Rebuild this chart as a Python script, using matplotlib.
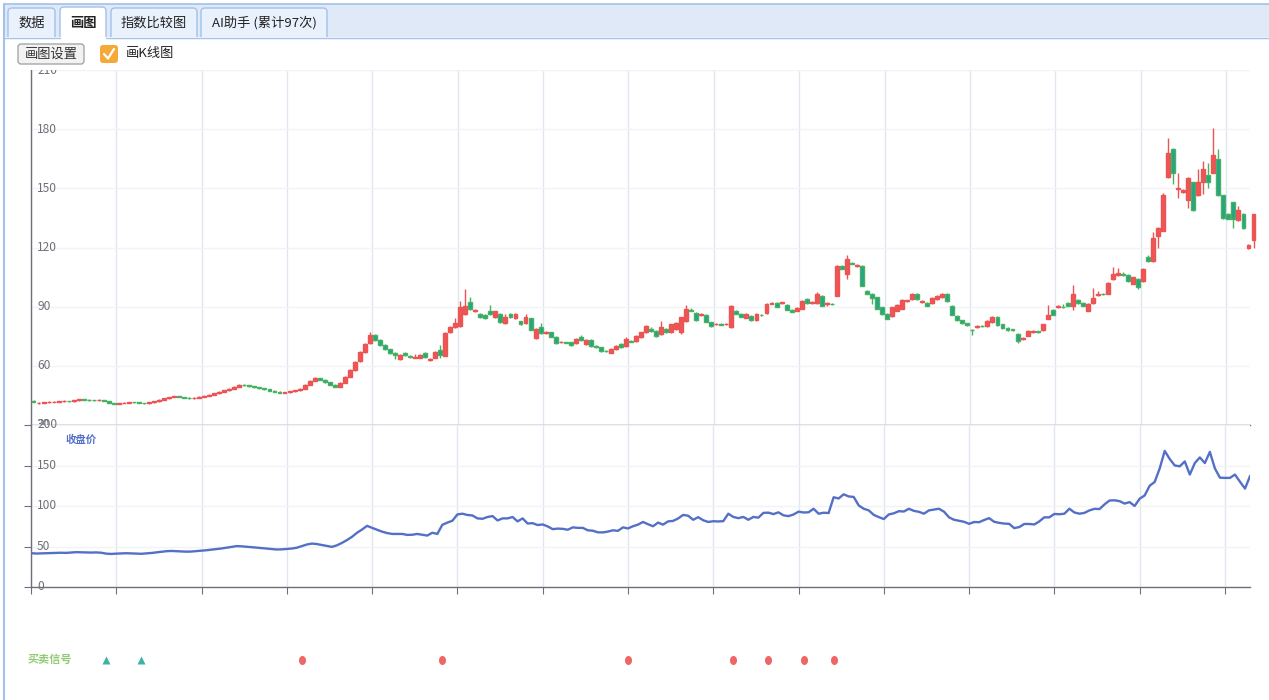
import numpy as np
import matplotlib.pyplot as plt
from matplotlib.patches import FancyBboxPatch, Rectangle
from matplotlib.lines import Line2D
from matplotlib.path import Path

plt.rcParams['font.family'] = ['Noto Sans CJK SC', 'DejaVu Sans']

W, H = 1269, 700

# K线数据 (开, 高, 低, 收)
opens = [
    42.3, 41.0, 41.2, 41.5, 41.7, 41.9, 42.0, 42.2, 42.1, 42.6,
    43.0, 42.8, 42.6, 42.5, 42.7, 42.3, 41.2, 40.8, 41.2, 41.4,
    41.7, 41.5, 41.2, 41.0, 41.5, 42.0, 42.8, 43.5, 44.2, 44.5,
    44.2, 43.9, 43.6, 43.8, 44.3, 44.8, 45.4, 46.1, 46.8, 47.6,
    48.5, 49.5, 50.5, 50.2, 49.7, 49.2, 48.6, 48.0, 47.4, 46.8,
    46.3, 46.5, 47.0, 47.5, 48.5, 50.5, 52.5, 53.6, 53.0, 51.8,
    50.5, 49.5, 51.5, 54.5, 58.0, 62.5, 67.0, 71.5, 75.5, 73.0,
    70.7, 68.3, 66.6, 63.5, 66.5, 65.0, 64.0, 64.2, 66.5, 63.0,
    64.0, 68.0, 65.0, 77.0, 79.5, 80.3, 86.4, 92.2, 88.0, 86.4,
    86.0, 87.6, 84.7, 86.4, 81.8, 86.4, 84.5, 82.6, 81.6, 84.0,
    74.2, 79.6, 76.5, 77.0, 74.8, 71.9, 72.0, 71.9, 71.4, 74.4,
    71.0, 73.0, 70.0, 69.3, 67.7, 66.7, 68.4, 71.0, 70.2, 72.8,
    72.7, 74.4, 77.0, 78.5, 77.6, 76.0, 78.8, 77.0, 78.8, 77.0,
    82.6, 88.5, 87.0, 85.8, 86.0, 82.0, 81.0, 81.2, 81.0, 79.5,
    88.0, 86.5, 84.5, 85.5, 83.0, 86.0, 86.6, 91.5, 92.0, 92.0,
    91.0, 88.5, 88.0, 89.0, 94.0, 92.0, 92.0, 95.6, 91.3, 91.5,
    95.6, 110.8, 106.8, 112.2, 110.5, 110.8, 98.0, 96.6, 94.7, 89.6,
    86.4, 85.4, 88.0, 89.0, 93.0, 94.0, 96.6, 92.5, 92.0, 92.0,
    94.0, 95.0, 96.6, 90.5, 85.5, 83.0, 81.5, 78.3, 79.5, 80.2,
    80.0, 82.0, 85.0, 81.0, 79.2, 78.5, 76.0, 73.5, 75.3, 77.0,
    77.5, 78.0, 84.0, 88.5, 89.8, 90.0, 92.0, 90.5, 93.5, 92.0,
    88.0, 92.0, 96.0, 96.5, 96.6, 104.0, 106.0, 106.5, 106.0, 101.7,
    104.0, 103.0, 115.0, 113.0, 126.0, 128.6, 155.6, 170.0, 149.5, 148.0,
    144.0, 153.0, 146.4, 153.0, 156.6, 158.0, 164.7, 146.4, 137.0, 142.9,
    133.7, 137.0, 119.5, 123.6,
]
highs = [
    42.6, 41.6, 41.7, 42.0, 42.1, 42.3, 42.5, 42.4, 42.8, 43.3,
    43.2, 43.0, 42.9, 43.0, 42.9, 42.4, 41.4, 41.4, 41.7, 41.9,
    41.9, 41.7, 41.4, 41.7, 42.2, 43.0, 43.7, 44.4, 44.8, 44.7,
    44.4, 44.1, 44.0, 44.5, 45.0, 45.6, 46.3, 47.0, 47.8, 48.7,
    49.7, 50.8, 50.7, 50.4, 49.9, 49.4, 48.8, 48.2, 47.6, 47.0,
    46.8, 47.2, 47.8, 48.8, 50.8, 52.9, 54.2, 53.9, 53.2, 52.0,
    50.8, 51.8, 54.8, 58.4, 62.5, 67.5, 71.6, 77.0, 76.0, 73.4,
    71.0, 68.6, 66.9, 66.0, 67.2, 65.4, 65.8, 65.8, 66.8, 64.0,
    67.4, 70.5, 77.2, 80.0, 84.5, 93.0, 99.0, 95.0, 88.8, 86.8,
    86.5, 91.0, 88.0, 86.8, 86.5, 86.8, 86.8, 82.9, 86.5, 84.4,
    79.2, 81.5, 77.6, 77.4, 75.2, 72.5, 72.3, 72.2, 74.0, 75.5,
    73.4, 73.4, 70.4, 69.7, 68.1, 68.8, 70.4, 71.4, 74.4, 73.2,
    75.4, 77.4, 80.7, 79.5, 78.0, 82.5, 79.2, 81.4, 82.0, 85.0,
    91.0, 89.5, 87.4, 86.8, 86.4, 82.4, 81.6, 81.6, 81.7, 91.0,
    88.4, 86.9, 86.9, 85.9, 86.9, 86.4, 91.9, 92.2, 92.4, 92.6,
    91.4, 88.9, 89.9, 93.4, 94.4, 92.8, 97.2, 96.0, 92.5, 92.0,
    111.2, 111.2, 116.0, 112.8, 111.6, 111.2, 98.4, 97.0, 95.1, 90.0,
    86.8, 90.0, 91.4, 94.0, 93.6, 97.0, 97.0, 93.2, 92.4, 95.0,
    96.0, 97.0, 97.0, 90.9, 85.9, 83.4, 81.9, 78.6, 80.6, 80.6,
    83.1, 85.4, 85.4, 81.4, 79.6, 78.9, 76.4, 74.4, 78.2, 78.2,
    77.9, 81.4, 91.0, 88.9, 90.6, 91.5, 92.4, 101.0, 93.9, 92.4,
    91.9, 99.5, 98.0, 96.9, 102.4, 110.0, 109.5, 107.5, 106.4, 105.2,
    104.4, 109.4, 116.0, 128.0, 130.5, 147.5, 175.4, 170.4, 158.0, 149.5,
    155.5, 153.4, 160.0, 164.0, 163.0, 180.5, 170.0, 146.8, 137.4, 143.3,
    141.0, 137.4, 121.9, 137.2,
]
lows = [
    41.5, 40.8, 41.0, 41.3, 41.5, 41.7, 41.8, 41.9, 41.9, 42.4,
    42.6, 42.4, 42.3, 42.3, 42.1, 41.0, 40.5, 40.6, 41.0, 41.2,
    41.3, 41.0, 40.8, 40.8, 41.3, 41.8, 42.6, 43.3, 44.0, 44.0,
    43.7, 43.4, 43.4, 43.6, 44.1, 44.6, 45.2, 45.9, 46.6, 47.4,
    48.3, 49.3, 50.0, 49.5, 49.0, 48.4, 47.8, 47.2, 46.6, 46.1,
    46.1, 46.3, 46.8, 47.3, 48.3, 50.3, 52.3, 52.7, 51.5, 50.2,
    49.2, 49.3, 51.2, 54.2, 57.6, 62.0, 66.5, 71.0, 72.6, 70.3,
    68.0, 66.2, 63.5, 63.0, 65.2, 64.0, 63.8, 64.0, 64.2, 62.3,
    63.8, 63.8, 64.8, 76.5, 79.2, 79.8, 86.0, 88.4, 87.2, 84.2,
    83.8, 86.0, 84.2, 81.8, 81.4, 84.3, 84.0, 80.6, 81.2, 78.0,
    73.8, 76.1, 76.2, 74.4, 71.0, 71.5, 71.4, 70.3, 71.0, 72.6,
    70.6, 69.6, 69.1, 67.1, 67.0, 66.3, 68.0, 68.9, 69.8, 71.9,
    72.3, 74.0, 76.6, 77.1, 74.6, 75.6, 76.6, 76.6, 78.4, 76.0,
    82.2, 87.6, 82.6, 85.4, 82.0, 79.9, 80.6, 80.5, 80.6, 79.1,
    86.1, 84.6, 84.1, 82.6, 82.6, 85.2, 86.2, 91.1, 89.6, 91.6,
    88.1, 87.1, 87.6, 88.6, 91.6, 91.4, 91.6, 90.1, 90.5, 90.8,
    95.2, 108.9, 104.0, 111.4, 110.1, 100.3, 96.2, 91.5, 88.6, 85.9,
    83.5, 85.0, 87.6, 88.6, 92.6, 93.6, 93.6, 92.1, 90.1, 91.6,
    93.6, 94.6, 92.6, 85.6, 82.6, 81.3, 80.1, 75.5, 79.1, 79.6,
    79.6, 81.6, 80.1, 78.8, 77.9, 77.6, 71.5, 73.1, 74.9, 76.6,
    76.8, 77.6, 83.6, 85.6, 89.4, 89.4, 90.1, 88.5, 91.6, 90.1,
    87.6, 91.6, 95.6, 95.8, 96.2, 103.6, 105.6, 105.6, 102.6, 101.3,
    99.0, 102.6, 112.6, 112.6, 120.0, 128.2, 155.2, 152.0, 145.0, 147.6,
    140.0, 138.4, 146.0, 147.0, 150.0, 157.6, 146.0, 134.6, 134.3, 130.0,
    133.3, 129.6, 119.1, 120.0,
]
closes = [
    41.8, 41.3, 41.5, 41.7, 41.9, 42.0, 42.3, 42.1, 42.6, 43.0,
    42.8, 42.6, 42.5, 42.7, 42.3, 41.2, 40.8, 41.2, 41.4, 41.7,
    41.5, 41.2, 41.0, 41.5, 42.0, 42.8, 43.5, 44.2, 44.5, 44.2,
    43.9, 43.6, 43.8, 44.3, 44.8, 45.4, 46.1, 46.8, 47.6, 48.5,
    49.5, 50.5, 50.2, 49.7, 49.2, 48.6, 48.0, 47.4, 46.8, 46.3,
    46.5, 47.0, 47.5, 48.5, 50.5, 52.5, 53.6, 53.0, 51.8, 50.5,
    49.5, 51.5, 54.5, 58.0, 62.0, 67.0, 71.0, 75.5, 73.0, 70.7,
    68.3, 66.6, 65.5, 65.5, 65.5, 64.3, 64.5, 65.5, 64.5, 63.5,
    67.0, 65.5, 76.8, 79.5, 81.8, 89.6, 90.5, 88.9, 88.3, 84.7,
    84.2, 86.4, 87.6, 82.2, 84.7, 84.7, 86.4, 81.0, 84.7, 78.4,
    78.8, 76.5, 77.2, 74.8, 71.4, 72.1, 71.8, 70.7, 73.6, 73.0,
    73.0, 70.0, 69.5, 67.5, 67.4, 68.4, 70.0, 69.3, 73.6, 72.3,
    75.0, 77.0, 80.3, 77.5, 75.0, 79.5, 77.0, 81.0, 81.6, 84.6,
    89.0, 88.0, 83.0, 86.2, 82.4, 80.3, 81.2, 80.9, 81.3, 90.5,
    86.5, 85.0, 86.5, 83.0, 86.5, 85.6, 91.5, 91.8, 90.0, 92.2,
    88.5, 87.5, 89.5, 93.0, 92.0, 92.2, 96.6, 90.5, 91.7, 91.3,
    110.8, 109.3, 114.4, 111.8, 111.2, 100.7, 96.6, 94.6, 89.0, 86.3,
    83.9, 89.6, 91.0, 93.6, 93.2, 96.6, 94.0, 92.8, 90.5, 94.6,
    95.6, 96.6, 93.0, 86.0, 83.0, 81.7, 80.5, 78.0, 80.2, 80.0,
    82.7, 85.0, 80.5, 79.2, 78.3, 78.0, 72.7, 74.0, 77.8, 77.8,
    77.2, 81.0, 86.0, 86.0, 90.2, 89.8, 90.5, 96.6, 92.0, 90.5,
    91.5, 94.6, 96.5, 96.2, 102.0, 106.8, 107.0, 106.0, 103.0, 104.8,
    100.0, 109.0, 113.0, 125.0, 129.7, 146.4, 168.0, 158.0, 150.0, 149.0,
    155.0, 138.8, 153.0, 160.0, 153.0, 166.8, 146.4, 135.0, 134.7, 134.7,
    138.8, 130.0, 121.5, 136.8,
]

# 买卖信号 (K线序号)
buy_idx = [15, 22]
sell_idx = [54, 82, 119, 140, 147, 154, 160]

k_ticks = [30, 60, 90, 120, 150, 180, 210]
close_ticks = [0, 50, 100, 150, 200]
tab_names = ['数据', '画图', '指数比较图', 'AI助手 (累计97次)']

AXIS_C = '#6e7079'
VGRID_C = '#e0e6f1'
HGRID_C = '#f2f3f6'
UP_C, UP_EDGE = '#ef5555', '#eb5454'
DN_C, DN_EDGE = '#26a487', '#47b262'

N = min(len(opens), len(highs), len(lows), len(closes))
o = np.array(opens[:N])
h = np.array(highs[:N])
l = np.array(lows[:N])
c = np.array(closes[:N])
x = np.arange(N)

fig = plt.figure(figsize=(W / 100, H / 100), dpi=100)
fig.patch.set_facecolor('white')


def frac(x0, y0, x1, y1):
    """像素框 -> figure 坐标"""
    return [x0 / W, 1 - y1 / H, (x1 - x0) / W, (y1 - y0) / H]


def style_axes(ax, yticks, ylim, ytick_len):
    ax.set_ylim(*ylim)
    ax.set_yticks(yticks)
    ax.tick_params(axis='y', length=ytick_len, color=AXIS_C, labelleft=False)
    ax.tick_params(axis='x', length=5, color=AXIS_C, labelbottom=False, direction='out')
    ax.grid(axis='x', color=VGRID_C, lw=1)
    ax.grid(axis='y', color=HGRID_C, lw=1)
    ax.set_axisbelow(True)
    for s in ['top', 'right']:
        ax.spines[s].set_visible(False)
    for s in ['left', 'bottom']:
        ax.spines[s].set_color(AXIS_C)
        ax.spines[s].set_linewidth(1)
    for v in yticks:
        ax.text(0.005, v, str(v), transform=ax.get_yaxis_transform(),
                ha='left', va='center', fontsize=8.6, color=AXIS_C, clip_on=False)


# ---- K线图 ----
ax_k = fig.add_axes(frac(31, 70, 1250, 425))
up = c >= o
body_c = np.where(up, UP_C, DN_C)
edge_c = np.where(up, UP_EDGE, DN_EDGE)
ax_k.vlines(x, l, h, colors=edge_c, lw=1, zorder=2, clip_on=False)
ax_k.bar(x, np.abs(c - o), bottom=np.minimum(o, c), width=0.78,
         color=body_c, edgecolor=edge_c, linewidth=1.0, zorder=3, clip_on=False)
ax_k.set_xlim(-0.5, 242.3)
ax_k.set_xticks(np.arange(-0.5, N, 17))
style_axes(ax_k, k_ticks, (30, 210), 0)

# ---- 收盘价 ----
ax_c = fig.add_axes(frac(31, 425, 1250, 587))
ax_c.plot(x, c, color='#5470c6', lw=1.7, zorder=3)
ax_c.set_xlim(0, N - 1)
ax_c.set_xticks(np.arange(0, N, 17))
style_axes(ax_c, close_ticks, (0, 200), 5)
ax_c.text(0.0287, 0.907, '收盘价', transform=ax_c.transAxes, ha='left', va='center',
          fontsize=7.5, fontweight='bold', color='#5470c6')

# ---- 买卖信号 ----
ax_s = fig.add_axes(frac(31, 630, 1250, 690))
ax_s.set_xlim(0, N - 1)
ax_s.set_ylim(0, 1)
ax_s.axis('off')
t = np.linspace(0, 2 * np.pi, 40)
ellipse = Path(np.column_stack([0.78 * np.cos(t), np.sin(t)]))
ax_s.plot(buy_idx, [0.5] * len(buy_idx), ls='none', marker='^', ms=6,
          color='#3fb3a3', mec='none')
ax_s.plot(sell_idx, [0.5] * len(sell_idx), ls='none', marker=ellipse, ms=6.5,
          color='#ee6666', mec='none')
fig.text(28 / W, 1 - 659 / H, '买卖信号', ha='left', va='center', fontsize=8,
         fontweight='bold', color='#91cc75')

# ---- 界面: 标签页 / 工具栏 ----
tr = fig.dpi_scale_trans


def px(xp, yp):
    return xp / 100, (H - yp) / 100


def add_box(x0, y0, x1, y1, fc, ec='none', lw=1, r=0, z=5):
    bx, by = px(x0, y1)
    if r > 0:
        p = FancyBboxPatch((bx, by), (x1 - x0) / 100, (y1 - y0) / 100,
                           boxstyle=f'round,pad=0,rounding_size={r / 100}',
                           transform=tr, fc=fc, ec=ec, lw=lw, zorder=z)
    else:
        p = Rectangle((bx, by), (x1 - x0) / 100, (y1 - y0) / 100,
                      transform=tr, fc=fc, ec=ec, lw=lw, zorder=z)
    fig.add_artist(p)


def add_line(xs, ys, color, lw=1, z=8):
    pts = [px(a, b) for a, b in zip(xs, ys)]
    fig.add_artist(Line2D([p[0] for p in pts], [p[1] for p in pts], transform=tr,
                          color=color, lw=lw, zorder=z, solid_capstyle='round'))


BORDER = '#a3c1e9'
add_box(4, 4, W, 37, '#dfe9f8', z=4)
tab_boxes = [(8, 55), (60, 106), (111, 197), (201, 327)]
for (x0, x1), name in zip(tab_boxes, tab_names):
    sel = name == '画图'
    add_box(x0, 7 if sel else 8, x1, 44, 'white' if sel else '#e9f1fc',
            ec=BORDER, lw=1, r=4, z=5)
    fig.text((x0 + x1) / 2 / W, 1 - 23 / H, name, ha='center', va='center',
             fontsize=9.5, color='#222222', fontweight='bold' if sel else 'normal', zorder=9)
# 内容区 (遮住图表顶部, 只露出 210 的下半截)
add_box(5, 37.5, W, 69.5, 'white', z=6)
add_line([4, 60], [37.5, 37.5], BORDER, 1)
add_line([106, W], [37.5, 37.5], BORDER, 1)
add_line([4, W], [4, 4], BORDER, 1.2)
add_line([4, 4], [4, H], BORDER, 1.5)

# 按钮 + 复选框
add_box(18, 44, 84, 64, '#f2f2f2', ec='#a6a6a6', lw=1, r=3, z=7)
fig.text(51 / W, 1 - 54.5 / H, '画图设置', ha='center', va='center', fontsize=9.5,
         color='#333333', zorder=9)
add_box(100, 45, 118, 63, '#f5a93b', r=3, z=7)
add_line([104, 108, 114], [54, 58.5, 49], 'white', 1.6, z=9)
fig.text(126 / W, 1 - 53.5 / H, '画K线图', ha='left', va='center', fontsize=9.5,
         color='#222222', zorder=9)

fig.savefig('out.png', dpi=100)
